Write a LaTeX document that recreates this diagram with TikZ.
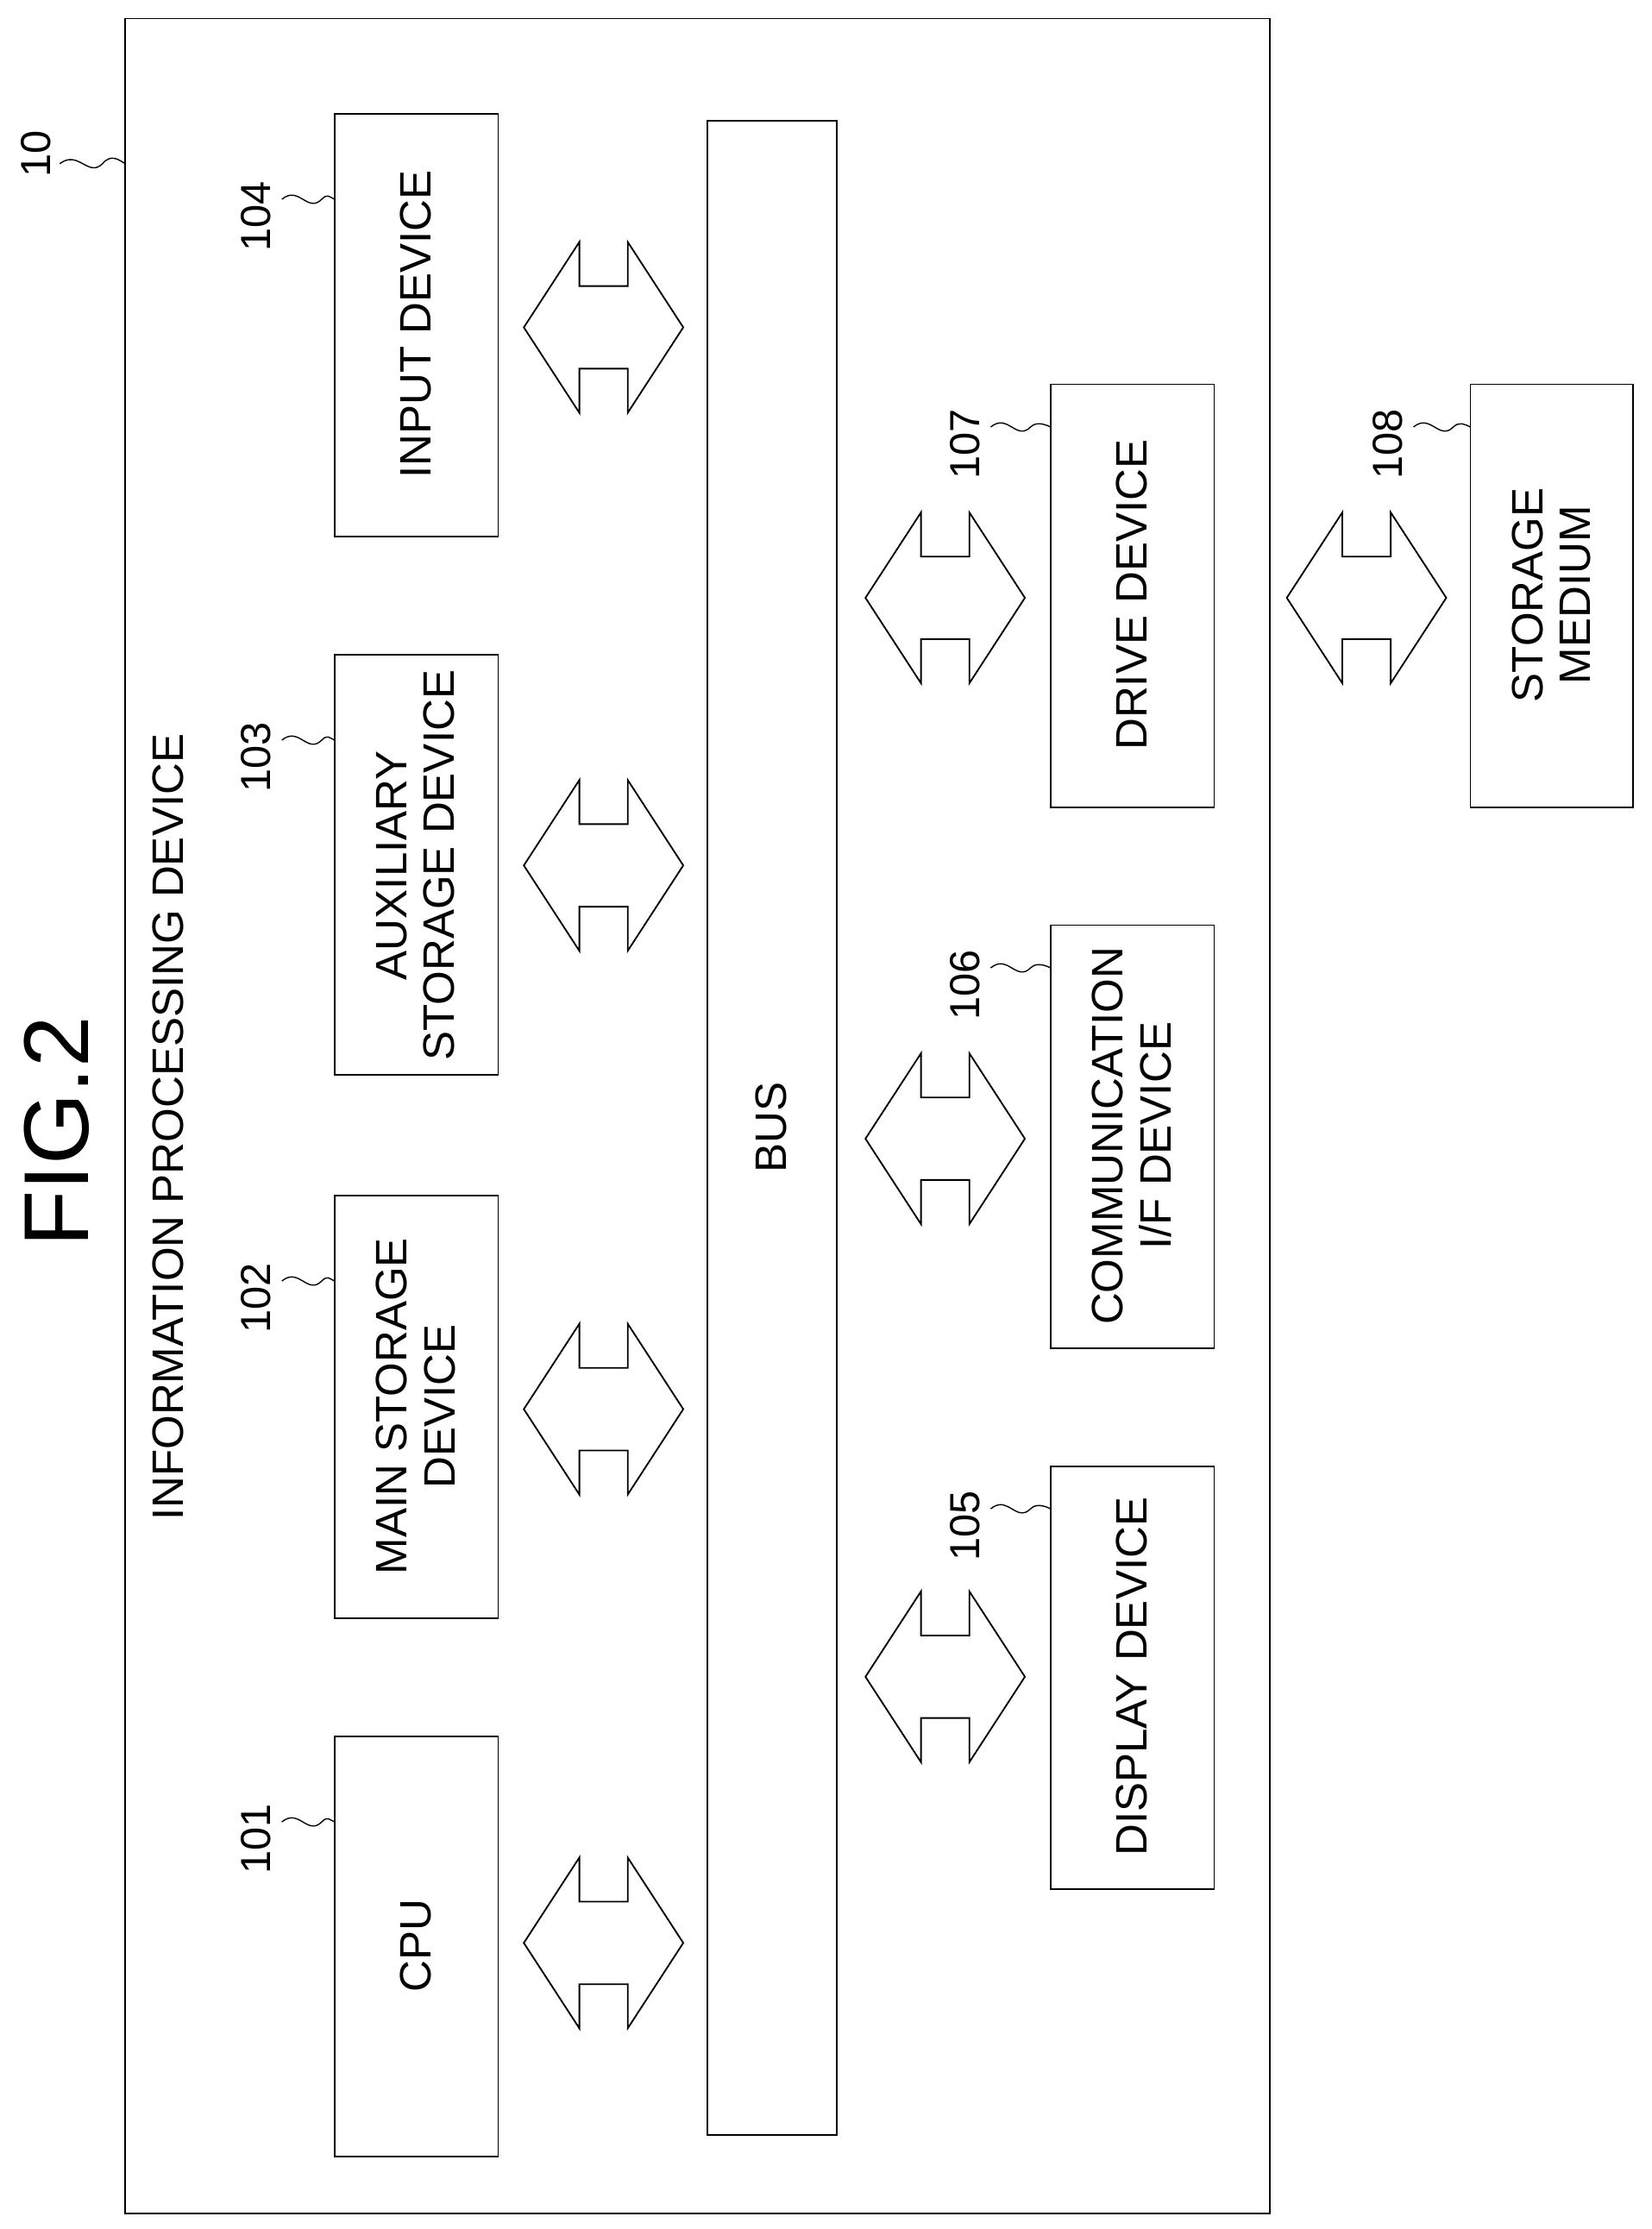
\documentclass[tikz,border=0pt]{standalone}
\usepackage{fontspec}
\setmainfont{Liberation Sans}
\begin{document}
\begin{tikzpicture}[x=0.05cm,y=-0.05cm,
  box/.style={draw,line width=1.6pt,inner sep=0pt},
  lbl/.style={rotate=90,font=\fontsize{44}{48}\selectfont,align=center},
  num/.style={rotate=90,font=\fontsize{42}{46}\selectfont},
  sq/.style={line width=1.2pt},
  dbl/.pic={\draw[line width=1.6pt,line join=miter]
    (-56,0) -- (-17,-60) -- (-17,-29) -- (17,-29) -- (17,-60) -- (56,0) -- (17,60) -- (17,29) -- (-17,29) -- (-17,60) -- cycle;}]
\useasboundingbox (0,0) rectangle (1160,1566);
\draw[box] (88,13) rectangle (892,1555);
\node[rotate=90,font=\fontsize{92}{94}\selectfont] (fig) at (40,795) {FIG.2};
\node[num] (n10) at (25,108) {10};
\draw[sq] (42,115) .. controls (55,105) and (62,125) .. (72,115) .. controls (78,108) and (83,112) .. (88,115);
\node[lbl] (ipd) at (118,792) {INFORMATION PROCESSING DEVICE};
% left column
\draw[box] (235,1220) rectangle (350,1515); \node[lbl] (cpu) at (292,1367) {CPU};
\draw[box] (235,840) rectangle (350,1137); \node[lbl] (main) at (292,988) {MAIN STORAGE\\DEVICE};
\draw[box] (235,460) rectangle (350,755); \node[lbl] (aux) at (292,608) {AUXILIARY\\STORAGE DEVICE};
\draw[box] (235,80) rectangle (350,377); \node[lbl] (inp) at (292,228) {INPUT DEVICE};
\draw[box] (497,85) rectangle (588,1500); \node[lbl] (bus) at (542,792) {BUS};
\draw[box] (738,1030) rectangle (853,1327); \node[lbl] (disp) at (795,1178) {DISPLAY DEVICE};
\draw[box] (738,650) rectangle (853,947); \node[lbl] (comm) at (795,798) {COMMUNICATION\\I/F DEVICE};
\draw[box] (738,270) rectangle (853,567); \node[lbl] (drv) at (795,418) {DRIVE DEVICE};
\draw[box] (1033,270) rectangle (1147,567); \node[lbl] (sm) at (1090,418) {STORAGE\\MEDIUM};
% arrows
\foreach \x/\y in {424/1365,424/990,424/608,424/230,664/1178,664/800,664/420,960/420}
  \pic at (\x,\y) {dbl};
% number labels
\foreach \n/\x/\y/\bx in {101/180/1292/235,102/180/912/235,103/180/532/235,104/180/152/235,105/678/1072/738,106/678/692/738,107/678/312/738,108/975/312/1033}{
  \node[num] at (\x,\y) {\n};
  \draw[sq] (\x+18,\y-12) .. controls (\x+30,\y-22) and (\x+36,\y-2) .. (\x+46,\y-12) .. controls (\x+50,\y-16) and (\bx-4,\y-14) .. (\bx,\y-12);
}
\end{tikzpicture}
\end{document}
